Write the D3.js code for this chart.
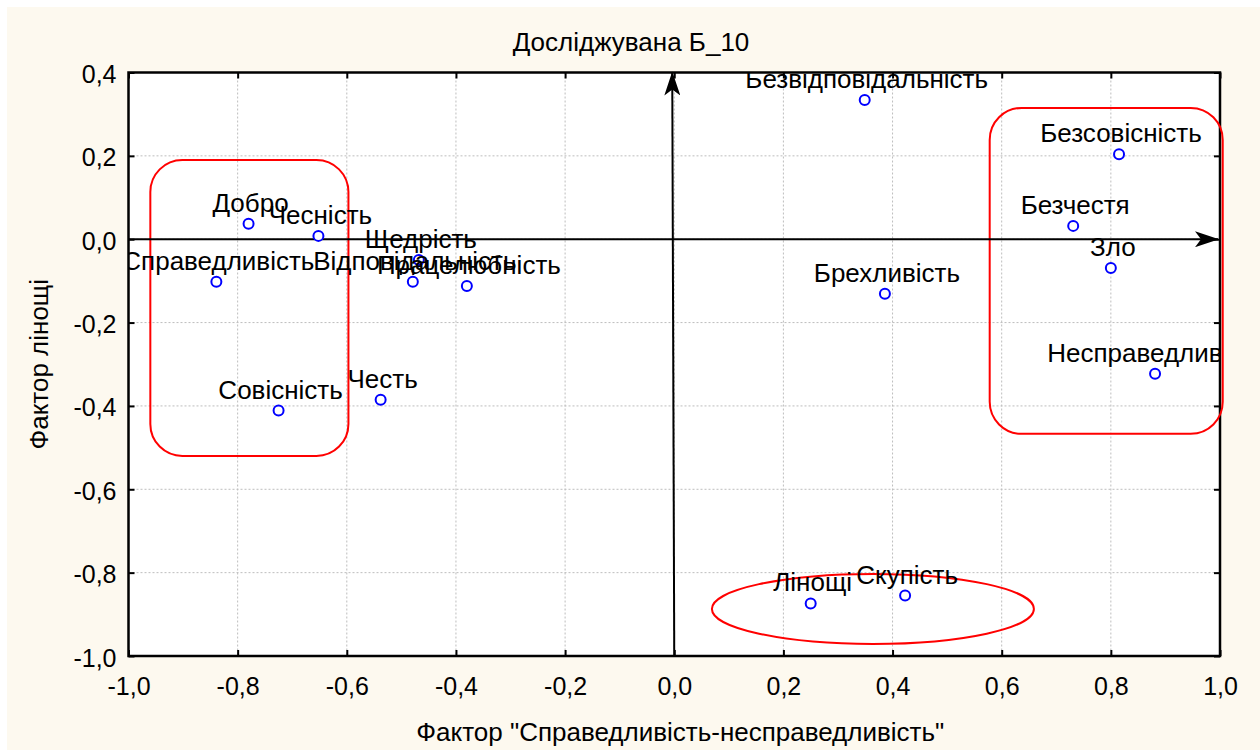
<!DOCTYPE html>
<html>
<head>
<meta charset="utf-8">
<script src="https://cdn.jsdelivr.net/npm/d3@7"></script>
<style>
  html, body { margin: 0; padding: 0; background: #fff; }
  svg { display: block; font-family: "Liberation Sans", Arial, sans-serif; }
</style>
</head>
<body>
<svg id="chart" width="1260" height="751"></svg>
<script>
// factor loadings
const words = ['Добро', 'Чесність', 'Справедливість', 'Відповідальність', 'Щедрість',
  'Працелюбність', 'Совісність', 'Честь', 'Безвідповідальність', 'Безсовісність',
  'Безчестя', 'Зло', 'Брехливість', 'Несправедливість', 'Лінощі', 'Скупість'];
const factorX = [-0.780, -0.652, -0.839, -0.479, -0.468, -0.380, -0.725, -0.538,
  0.349, 0.815, 0.731, 0.800, 0.386, 0.881, 0.250, 0.423];
const factorY = [0.037, 0.008, -0.102, -0.102, -0.050, -0.112, -0.411, -0.385,
  0.334, 0.204, 0.032, -0.069, -0.131, -0.323, -0.874, -0.855];

const xTicks = [-1.0, -0.8, -0.6, -0.4, -0.2, 0.0, 0.2, 0.4, 0.6, 0.8, 1.0];
const yTicks = [0.4, 0.2, 0.0, -0.2, -0.4, -0.6, -0.8, -1.0];

// red groupings, in factor units
const groupBoxes = [
  { x0: -0.960, x1: -0.597, y0: 0.190, y1: -0.520 },
  { x0: 0.578, x1: 1.005, y0: 0.315, y1: -0.467 }
];
const groupEllipse = { cx: 0.364, cy: -0.887, rx: 0.295, ry: 0.084 };

const titleText = 'Досліджувана Б_10';
const xTitle = 'Фактор "Справедливість-несправедливість"';
const yTitle = 'Фактор лінощі';

const data = words.map((w, i) => ({ name: w, x: factorX[i], y: factorY[i] }));

const svg = d3.select('#chart');
const width = +svg.attr('width');
const height = +svg.attr('height');
const margin = { top: 72.5, right: 40, bottom: 95, left: 128.5 };

const fmt = v => d3.format('.1f')(v).replace('.', ',').replace('−', '-');

// cream panel
svg.append('rect')
  .attr('x', 7).attr('y', 7)
  .attr('width', width - 7).attr('height', height - 8)
  .attr('fill', '#fdf9ef');

const x = d3.scaleLinear().domain([-1, 1]).range([margin.left, width - margin.right]);
const y = d3.scaleLinear().domain([-1, 0.4]).range([height - margin.bottom, margin.top]);

svg.append('rect')
  .attr('x', x(-1)).attr('y', y(0.4))
  .attr('width', x(1) - x(-1)).attr('height', y(-1) - y(0.4))
  .attr('fill', '#fff');

// grid
const grid = svg.append('g')
  .attr('stroke', '#bdbdbd')
  .attr('stroke-width', 1)
  .attr('stroke-dasharray', '2,2');
grid.selectAll('.gx').data(xTicks.slice(1, -1)).join('line')
  .attr('x1', d => x(d)).attr('x2', d => x(d))
  .attr('y1', y(0.4)).attr('y2', y(-1));
grid.selectAll('.gy').data(yTicks.slice(1, -1)).join('line')
  .attr('y1', d => y(d)).attr('y2', d => y(d))
  .attr('x1', x(-1)).attr('x2', x(1));

// axes with inward ticks on all four sides
svg.append('g')
  .attr('transform', `translate(0,${y(-1)})`)
  .call(d3.axisBottom(x).tickValues(xTicks).tickSize(-6).tickPadding(21).tickFormat(fmt))
  .call(g => g.select('.domain').remove());
svg.append('g')
  .attr('transform', `translate(0,${y(0.4)})`)
  .call(d3.axisTop(x).tickValues(xTicks).tickSize(-6).tickFormat(''))
  .call(g => g.select('.domain').remove());
svg.append('g')
  .attr('transform', `translate(${x(-1)},0)`)
  .call(d3.axisLeft(y).tickValues(yTicks).tickSize(-6).tickPadding(12).tickFormat(fmt))
  .call(g => g.select('.domain').remove())
  .call(g => g.selectAll('.tick text').attr('dy', '0.4em'));
svg.append('g')
  .attr('transform', `translate(${x(1)},0)`)
  .call(d3.axisRight(y).tickValues(yTicks).tickSize(-6).tickFormat(''))
  .call(g => g.select('.domain').remove());

svg.selectAll('.tick line').attr('stroke', '#000').attr('stroke-width', 2);
svg.selectAll('.tick text')
  .attr('font-size', 25)
  .attr('font-family', '"Liberation Sans", Arial, sans-serif')
  .attr('fill', '#000');

svg.append('rect')
  .attr('x', x(-1)).attr('y', y(0.4))
  .attr('width', x(1) - x(-1)).attr('height', y(-1) - y(0.4))
  .attr('fill', 'none').attr('stroke', '#000').attr('stroke-width', 2.5);

// red groups
const red = svg.append('g').attr('fill', 'none').attr('stroke', '#ff0000').attr('stroke-width', 2);
red.selectAll('rect').data(groupBoxes).join('rect')
  .attr('x', d => x(d.x0)).attr('y', d => y(d.y0))
  .attr('width', d => x(d.x1) - x(d.x0))
  .attr('height', d => y(d.y1) - y(d.y0))
  .attr('rx', 32).attr('ry', 32);
red.append('ellipse')
  .attr('cx', x(groupEllipse.cx)).attr('cy', y(groupEllipse.cy))
  .attr('rx', x(groupEllipse.rx) - x(0)).attr('ry', y(0) - y(groupEllipse.ry));

// axis arrows through the origin
svg.append('defs').append('marker')
  .attr('id', 'arrow')
  .attr('viewBox', '0 0 24 16')
  .attr('refX', 23).attr('refY', 8)
  .attr('markerWidth', 24).attr('markerHeight', 16)
  .attr('markerUnits', 'userSpaceOnUse')
  .attr('orient', 'auto')
  .append('path')
  .attr('d', 'M0,0 L24,8 L0,16 L6,8 Z')
  .attr('fill', '#000');

svg.append('line')
  .attr('x1', x(-1)).attr('x2', x(1) - 2)
  .attr('y1', y(0)).attr('y2', y(0))
  .attr('stroke', '#000').attr('stroke-width', 2)
  .attr('marker-end', 'url(#arrow)');
svg.append('line')
  .attr('x1', x(0)).attr('x2', x(0) - 2)
  .attr('y1', y(-1)).attr('y2', y(0.4))
  .attr('stroke', '#000').attr('stroke-width', 2)
  .attr('marker-end', 'url(#arrow)');

// points + labels, labels clipped to plot
svg.append('clipPath').attr('id', 'plotClip')
  .append('rect')
  .attr('x', x(-1)).attr('y', y(0.4))
  .attr('width', x(1) - x(-1)).attr('height', y(-1) - y(0.4));

svg.append('g')
  .selectAll('circle').data(data).join('circle')
  .attr('cx', d => x(d.x)).attr('cy', d => y(d.y))
  .attr('r', 5)
  .attr('fill', '#fff')
  .attr('stroke', '#0000ff')
  .attr('stroke-width', 2);

svg.append('g')
  .attr('clip-path', 'url(#plotClip)')
  .selectAll('text').data(data).join('text')
  .attr('x', d => x(d.x) + 2).attr('y', d => y(d.y) - 12)
  .attr('text-anchor', 'middle')
  .attr('font-size', 26)
  .attr('fill', '#000')
  .text(d => d.name);

// titles
svg.append('text')
  .attr('x', 631).attr('y', 51)
  .attr('text-anchor', 'middle')
  .attr('font-size', 26)
  .text(titleText);
svg.append('text')
  .attr('x', (x(-1) + x(1)) / 2 + 6).attr('y', 741)
  .attr('text-anchor', 'middle')
  .attr('font-size', 26)
  .text(xTitle);
svg.append('text')
  .attr('transform', `translate(48,${(y(0.4) + y(-1)) / 2}) rotate(-90)`)
  .attr('text-anchor', 'middle')
  .attr('font-size', 26)
  .text(yTitle);
</script>
</body>
</html>
